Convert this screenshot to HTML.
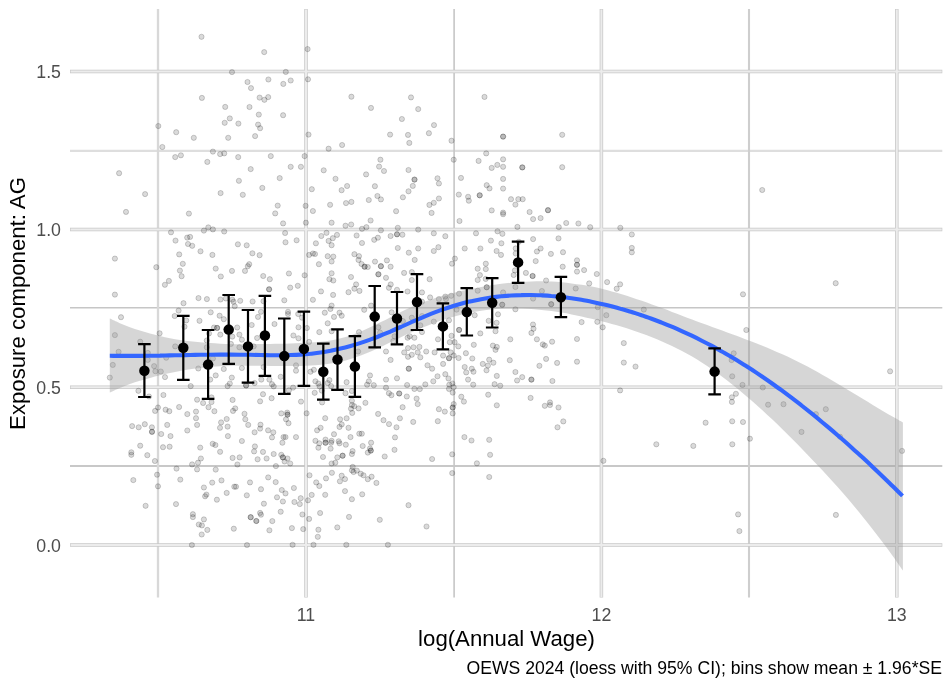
<!DOCTYPE html>
<html lang="en">
<head>
<meta charset="utf-8">
<title>Exposure component: AG vs log(Annual Wage)</title>
<style>
html,body{margin:0;padding:0;background:#fff;}
body{width:948px;height:681px;overflow:hidden;font-family:"Liberation Sans",Arial,Helvetica,sans-serif;}
svg{display:block;}
.tick{font-size:17.76px;fill:#4d4d4d;}
.title{font-size:22.2px;fill:#000;}
.cap{font-size:17.62px;fill:#000;}
.gmajo{stroke:#c8c8c8;stroke-width:3.5;fill:none;}
.gmaji{stroke:#ececec;stroke-width:2.0;fill:none;}
.pt circle{fill:#000;fill-opacity:0.145;stroke:#000;stroke-opacity:0.2;stroke-width:0.9;}
.eb{stroke:#000;stroke-width:2.2;fill:none;}
.bin{fill:#000;}
</style>
</head>
<body>
<svg width="948" height="681" viewBox="0 0 948 681" font-family="Liberation Sans, Arial, Helvetica, sans-serif">
<rect width="948" height="681" fill="#fff"/>
<g fill="none"><line x1="70" x2="942.3" y1="150.8" y2="150.8" stroke="#dedede" stroke-width="2.2"/><line x1="70" x2="942.3" y1="307.7" y2="307.7" stroke="#c6c6c6" stroke-width="1.6"/><line x1="70" x2="942.3" y1="465.9" y2="465.9" stroke="#c8c8c8" stroke-width="2.0"/><line y1="9" y2="597.6" x1="158.0" x2="158.0" stroke="#d8d8d8" stroke-width="2.3"/><line y1="9" y2="597.6" x1="454.1" x2="454.1" stroke="#c6c6c6" stroke-width="1.6"/><line y1="9" y2="597.6" x1="749.0" x2="749.0" stroke="#cecece" stroke-width="2.1"/></g>
<g class="gmajo"><line x1="70" x2="942.3" y1="71.6" y2="71.6"/><line x1="70" x2="942.3" y1="229.4" y2="229.4"/><line x1="70" x2="942.3" y1="387.2" y2="387.2"/><line x1="70" x2="942.3" y1="545.0" y2="545.0"/><line y1="9" y2="597.6" x1="306.0" x2="306.0"/><line y1="9" y2="597.6" x1="601.4" x2="601.4"/><line y1="9" y2="597.6" x1="896.8" x2="896.8"/></g>
<g class="gmaji"><line x1="70.6" x2="941.6999999999999" y1="71.6" y2="71.6"/><line x1="70.6" x2="941.6999999999999" y1="229.4" y2="229.4"/><line x1="70.6" x2="941.6999999999999" y1="387.2" y2="387.2"/><line x1="70.6" x2="941.6999999999999" y1="545.0" y2="545.0"/><line y1="9.6" y2="597.0" x1="306.0" x2="306.0"/><line y1="9.6" y2="597.0" x1="601.4" x2="601.4"/><line y1="9.6" y2="597.0" x1="896.8" x2="896.8"/></g>
<g class="pt"><circle cx="201.5" cy="36.8" r="2.6"/><circle cx="232.0" cy="72.1" r="2.6"/><circle cx="247.5" cy="82.0" r="2.6"/><circle cx="251.0" cy="88.1" r="2.6"/><circle cx="201.9" cy="97.9" r="2.6"/><circle cx="225.2" cy="106.9" r="2.6"/>
<circle cx="249.5" cy="107.0" r="2.6"/><circle cx="229.8" cy="118.4" r="2.6"/><circle cx="224.7" cy="122.8" r="2.6"/><circle cx="238.4" cy="123.6" r="2.6"/><circle cx="158.3" cy="126.0" r="2.6"/><circle cx="176.2" cy="132.2" r="2.6"/>
<circle cx="193.8" cy="137.8" r="2.6"/><circle cx="228.2" cy="137.8" r="2.6"/><circle cx="255.1" cy="136.1" r="2.6"/><circle cx="264.2" cy="52.1" r="2.6"/><circle cx="307.6" cy="49.1" r="2.6"/><circle cx="285.8" cy="71.9" r="2.6"/>
<circle cx="268.4" cy="79.5" r="2.6"/><circle cx="290.7" cy="80.5" r="2.6"/><circle cx="283.3" cy="83.9" r="2.6"/><circle cx="308.0" cy="79.3" r="2.6"/><circle cx="259.6" cy="97.6" r="2.6"/><circle cx="268.2" cy="97.1" r="2.6"/>
<circle cx="264.4" cy="99.8" r="2.6"/><circle cx="351.4" cy="96.7" r="2.6"/><circle cx="371.0" cy="107.9" r="2.6"/><circle cx="258.8" cy="114.6" r="2.6"/><circle cx="283.1" cy="115.2" r="2.6"/><circle cx="258.1" cy="124.6" r="2.6"/>
<circle cx="260.1" cy="128.2" r="2.6"/><circle cx="308.5" cy="134.6" r="2.6"/><circle cx="401.9" cy="119.0" r="2.6"/><circle cx="390.1" cy="134.6" r="2.6"/><circle cx="408.0" cy="134.9" r="2.6"/><circle cx="411.0" cy="97.4" r="2.6"/>
<circle cx="418.2" cy="109.1" r="2.6"/><circle cx="434.0" cy="125.1" r="2.6"/><circle cx="428.9" cy="133.2" r="2.6"/><circle cx="409.3" cy="142.9" r="2.6"/><circle cx="451.5" cy="140.7" r="2.6"/><circle cx="484.5" cy="96.9" r="2.6"/>
<circle cx="503.1" cy="136.6" r="2.6"/><circle cx="503.1" cy="136.6" r="2.6"/><circle cx="562.2" cy="134.8" r="2.6"/><circle cx="562.2" cy="167.2" r="2.6"/><circle cx="762.2" cy="190.0" r="2.6"/><circle cx="162.3" cy="147.0" r="2.6"/>
<circle cx="175.2" cy="157.1" r="2.6"/><circle cx="180.9" cy="155.3" r="2.6"/><circle cx="212.9" cy="151.6" r="2.6"/><circle cx="220.1" cy="154.1" r="2.6"/><circle cx="224.2" cy="153.4" r="2.6"/><circle cx="238.2" cy="157.1" r="2.6"/>
<circle cx="207.3" cy="161.9" r="2.6"/><circle cx="250.7" cy="169.1" r="2.6"/><circle cx="119.1" cy="173.2" r="2.6"/><circle cx="238.9" cy="180.8" r="2.6"/><circle cx="145.1" cy="194.1" r="2.6"/><circle cx="220.6" cy="193.1" r="2.6"/>
<circle cx="242.8" cy="194.8" r="2.6"/><circle cx="126.0" cy="211.9" r="2.6"/><circle cx="188.9" cy="213.6" r="2.6"/><circle cx="208.3" cy="227.4" r="2.6"/><circle cx="203.9" cy="230.6" r="2.6"/><circle cx="212.9" cy="229.4" r="2.6"/>
<circle cx="224.2" cy="231.5" r="2.6"/><circle cx="171.0" cy="232.3" r="2.6"/><circle cx="187.2" cy="237.6" r="2.6"/><circle cx="190.1" cy="236.9" r="2.6"/><circle cx="175.5" cy="240.6" r="2.6"/><circle cx="188.0" cy="244.0" r="2.6"/>
<circle cx="192.2" cy="245.8" r="2.6"/><circle cx="237.9" cy="244.3" r="2.6"/><circle cx="246.7" cy="245.3" r="2.6"/><circle cx="342.1" cy="145.0" r="2.6"/><circle cx="328.6" cy="148.7" r="2.6"/><circle cx="270.8" cy="156.1" r="2.6"/>
<circle cx="304.6" cy="156.1" r="2.6"/><circle cx="290.7" cy="166.8" r="2.6"/><circle cx="300.9" cy="166.8" r="2.6"/><circle cx="323.7" cy="170.3" r="2.6"/><circle cx="380.4" cy="159.7" r="2.6"/><circle cx="379.1" cy="166.6" r="2.6"/>
<circle cx="384.0" cy="171.0" r="2.6"/><circle cx="366.1" cy="174.4" r="2.6"/><circle cx="408.5" cy="170.0" r="2.6"/><circle cx="279.7" cy="178.1" r="2.6"/><circle cx="335.5" cy="178.8" r="2.6"/><circle cx="262.3" cy="187.9" r="2.6"/>
<circle cx="311.8" cy="189.2" r="2.6"/><circle cx="347.1" cy="186.0" r="2.6"/><circle cx="341.6" cy="190.2" r="2.6"/><circle cx="374.9" cy="186.2" r="2.6"/><circle cx="408.5" cy="191.3" r="2.6"/><circle cx="377.4" cy="196.0" r="2.6"/>
<circle cx="380.9" cy="199.4" r="2.6"/><circle cx="368.8" cy="200.0" r="2.6"/><circle cx="402.9" cy="197.3" r="2.6"/><circle cx="351.4" cy="201.9" r="2.6"/><circle cx="346.0" cy="203.1" r="2.6"/><circle cx="330.1" cy="204.8" r="2.6"/>
<circle cx="277.7" cy="205.6" r="2.6"/><circle cx="305.6" cy="205.8" r="2.6"/><circle cx="312.9" cy="211.0" r="2.6"/><circle cx="275.2" cy="213.4" r="2.6"/><circle cx="396.1" cy="211.2" r="2.6"/><circle cx="283.1" cy="223.4" r="2.6"/>
<circle cx="305.9" cy="222.7" r="2.6"/><circle cx="331.6" cy="222.7" r="2.6"/><circle cx="370.6" cy="220.5" r="2.6"/><circle cx="351.2" cy="224.5" r="2.6"/><circle cx="345.5" cy="225.7" r="2.6"/><circle cx="366.4" cy="227.2" r="2.6"/>
<circle cx="362.0" cy="228.8" r="2.6"/><circle cx="397.8" cy="227.8" r="2.6"/><circle cx="380.9" cy="230.3" r="2.6"/><circle cx="285.1" cy="233.0" r="2.6"/><circle cx="326.5" cy="232.8" r="2.6"/><circle cx="337.0" cy="234.9" r="2.6"/>
<circle cx="321.3" cy="236.0" r="2.6"/><circle cx="332.8" cy="238.2" r="2.6"/><circle cx="356.6" cy="235.5" r="2.6"/><circle cx="397.0" cy="234.3" r="2.6"/><circle cx="397.0" cy="234.3" r="2.6"/><circle cx="402.4" cy="234.7" r="2.6"/>
<circle cx="390.6" cy="236.0" r="2.6"/><circle cx="377.9" cy="237.7" r="2.6"/><circle cx="374.2" cy="239.8" r="2.6"/><circle cx="328.6" cy="240.9" r="2.6"/><circle cx="296.6" cy="240.3" r="2.6"/><circle cx="285.5" cy="242.3" r="2.6"/>
<circle cx="315.9" cy="243.3" r="2.6"/><circle cx="331.6" cy="245.2" r="2.6"/><circle cx="362.0" cy="243.0" r="2.6"/><circle cx="397.8" cy="248.0" r="2.6"/><circle cx="486.2" cy="153.4" r="2.6"/><circle cx="453.7" cy="159.7" r="2.6"/>
<circle cx="478.6" cy="160.9" r="2.6"/><circle cx="503.1" cy="159.3" r="2.6"/><circle cx="497.3" cy="164.9" r="2.6"/><circle cx="491.7" cy="167.9" r="2.6"/><circle cx="503.1" cy="166.8" r="2.6"/><circle cx="522.3" cy="167.4" r="2.6"/>
<circle cx="522.3" cy="167.4" r="2.6"/><circle cx="437.5" cy="178.3" r="2.6"/><circle cx="414.5" cy="179.6" r="2.6"/><circle cx="414.5" cy="179.6" r="2.6"/><circle cx="438.9" cy="183.5" r="2.6"/><circle cx="461.0" cy="177.9" r="2.6"/>
<circle cx="503.1" cy="178.9" r="2.6"/><circle cx="412.8" cy="185.9" r="2.6"/><circle cx="486.7" cy="185.2" r="2.6"/><circle cx="489.5" cy="188.4" r="2.6"/><circle cx="503.1" cy="188.6" r="2.6"/><circle cx="458.8" cy="194.6" r="2.6"/>
<circle cx="479.7" cy="195.3" r="2.6"/><circle cx="479.7" cy="195.3" r="2.6"/><circle cx="468.1" cy="196.8" r="2.6"/><circle cx="438.9" cy="198.5" r="2.6"/><circle cx="468.8" cy="200.7" r="2.6"/><circle cx="511.0" cy="199.2" r="2.6"/>
<circle cx="518.3" cy="199.2" r="2.6"/><circle cx="522.7" cy="199.2" r="2.6"/><circle cx="433.8" cy="202.8" r="2.6"/><circle cx="429.4" cy="204.9" r="2.6"/><circle cx="515.4" cy="204.6" r="2.6"/><circle cx="431.6" cy="212.9" r="2.6"/>
<circle cx="491.7" cy="210.4" r="2.6"/><circle cx="503.1" cy="212.6" r="2.6"/><circle cx="503.1" cy="214.2" r="2.6"/><circle cx="529.6" cy="212.0" r="2.6"/><circle cx="548.0" cy="210.2" r="2.6"/><circle cx="548.0" cy="210.2" r="2.6"/>
<circle cx="540.6" cy="218.1" r="2.6"/><circle cx="533.1" cy="219.1" r="2.6"/><circle cx="459.5" cy="221.0" r="2.6"/><circle cx="517.4" cy="226.9" r="2.6"/><circle cx="418.2" cy="229.6" r="2.6"/><circle cx="558.8" cy="227.1" r="2.6"/>
<circle cx="433.8" cy="233.3" r="2.6"/><circle cx="445.3" cy="236.2" r="2.6"/><circle cx="476.0" cy="233.3" r="2.6"/><circle cx="497.5" cy="231.3" r="2.6"/><circle cx="502.4" cy="233.8" r="2.6"/><circle cx="490.9" cy="240.6" r="2.6"/>
<circle cx="501.4" cy="243.3" r="2.6"/><circle cx="533.1" cy="239.1" r="2.6"/><circle cx="558.5" cy="238.4" r="2.6"/><circle cx="438.4" cy="247.2" r="2.6"/><circle cx="418.2" cy="248.5" r="2.6"/><circle cx="464.7" cy="248.5" r="2.6"/>
<circle cx="480.4" cy="248.5" r="2.6"/><circle cx="540.6" cy="248.5" r="2.6"/><circle cx="518.8" cy="241.8" r="2.6"/><circle cx="566.2" cy="223.0" r="2.6"/><circle cx="578.4" cy="223.5" r="2.6"/><circle cx="590.2" cy="227.2" r="2.6"/>
<circle cx="620.3" cy="227.8" r="2.6"/><circle cx="631.8" cy="234.5" r="2.6"/><circle cx="631.8" cy="247.9" r="2.6"/><circle cx="200.5" cy="251.3" r="2.6"/><circle cx="179.2" cy="254.4" r="2.6"/><circle cx="212.4" cy="254.9" r="2.6"/>
<circle cx="252.4" cy="253.3" r="2.6"/><circle cx="114.9" cy="258.6" r="2.6"/><circle cx="182.8" cy="263.8" r="2.6"/><circle cx="156.3" cy="267.2" r="2.6"/><circle cx="249.2" cy="264.2" r="2.6"/><circle cx="247.8" cy="266.2" r="2.6"/>
<circle cx="215.7" cy="268.6" r="2.6"/><circle cx="179.9" cy="270.6" r="2.6"/><circle cx="232.0" cy="270.9" r="2.6"/><circle cx="245.0" cy="270.9" r="2.6"/><circle cx="181.6" cy="276.2" r="2.6"/><circle cx="220.8" cy="276.5" r="2.6"/>
<circle cx="168.9" cy="280.9" r="2.6"/><circle cx="164.9" cy="284.8" r="2.6"/><circle cx="114.9" cy="294.6" r="2.6"/><circle cx="198.5" cy="298.1" r="2.6"/><circle cx="206.9" cy="299.1" r="2.6"/><circle cx="220.5" cy="299.5" r="2.6"/>
<circle cx="225.9" cy="298.5" r="2.6"/><circle cx="232.3" cy="299.6" r="2.6"/><circle cx="233.5" cy="301.7" r="2.6"/><circle cx="240.2" cy="300.8" r="2.6"/><circle cx="252.6" cy="301.5" r="2.6"/><circle cx="183.5" cy="303.2" r="2.6"/>
<circle cx="234.7" cy="306.2" r="2.6"/><circle cx="178.6" cy="310.6" r="2.6"/><circle cx="210.7" cy="312.3" r="2.6"/><circle cx="121.0" cy="317.2" r="2.6"/><circle cx="174.7" cy="316.0" r="2.6"/><circle cx="219.6" cy="315.7" r="2.6"/>
<circle cx="223.8" cy="319.2" r="2.6"/><circle cx="186.2" cy="320.4" r="2.6"/><circle cx="199.5" cy="320.8" r="2.6"/><circle cx="258.0" cy="316.9" r="2.6"/><circle cx="184.5" cy="326.7" r="2.6"/><circle cx="217.1" cy="327.9" r="2.6"/>
<circle cx="217.1" cy="327.9" r="2.6"/><circle cx="214.0" cy="327.5" r="2.6"/><circle cx="237.2" cy="327.5" r="2.6"/><circle cx="209.0" cy="333.4" r="2.6"/><circle cx="220.3" cy="334.6" r="2.6"/><circle cx="232.3" cy="336.6" r="2.6"/>
<circle cx="239.4" cy="334.6" r="2.6"/><circle cx="159.6" cy="333.3" r="2.6"/><circle cx="251.7" cy="325.0" r="2.6"/><circle cx="114.9" cy="335.1" r="2.6"/><circle cx="241.9" cy="339.7" r="2.6"/><circle cx="140.2" cy="341.7" r="2.6"/>
<circle cx="206.8" cy="340.5" r="2.6"/><circle cx="175.2" cy="346.4" r="2.6"/><circle cx="206.8" cy="347.3" r="2.6"/><circle cx="118.6" cy="351.8" r="2.6"/><circle cx="239.4" cy="347.3" r="2.6"/><circle cx="230.9" cy="343.9" r="2.6"/>
<circle cx="147.8" cy="352.9" r="2.6"/><circle cx="253.7" cy="346.4" r="2.6"/><circle cx="257.1" cy="338.0" r="2.6"/><circle cx="147.8" cy="359.9" r="2.6"/><circle cx="166.2" cy="357.7" r="2.6"/><circle cx="112.8" cy="364.9" r="2.6"/>
<circle cx="154.1" cy="366.1" r="2.6"/><circle cx="155.4" cy="371.2" r="2.6"/><circle cx="160.8" cy="371.5" r="2.6"/><circle cx="109.8" cy="377.6" r="2.6"/><circle cx="165.0" cy="377.1" r="2.6"/><circle cx="198.3" cy="368.5" r="2.6"/>
<circle cx="212.9" cy="358.5" r="2.6"/><circle cx="223.8" cy="369.0" r="2.6"/><circle cx="241.9" cy="368.0" r="2.6"/><circle cx="215.7" cy="375.4" r="2.6"/><circle cx="210.2" cy="379.6" r="2.6"/><circle cx="231.8" cy="377.6" r="2.6"/>
<circle cx="229.8" cy="383.5" r="2.6"/><circle cx="227.6" cy="386.1" r="2.6"/><circle cx="190.7" cy="386.1" r="2.6"/><circle cx="246.1" cy="385.5" r="2.6"/><circle cx="246.1" cy="385.5" r="2.6"/><circle cx="254.6" cy="383.0" r="2.6"/>
<circle cx="138.4" cy="390.8" r="2.6"/><circle cx="149.0" cy="396.5" r="2.6"/><circle cx="163.4" cy="395.0" r="2.6"/><circle cx="197.1" cy="399.7" r="2.6"/><circle cx="211.5" cy="397.4" r="2.6"/><circle cx="232.6" cy="399.9" r="2.6"/>
<circle cx="203.1" cy="403.0" r="2.6"/><circle cx="211.5" cy="402.1" r="2.6"/><circle cx="208.5" cy="407.2" r="2.6"/><circle cx="158.0" cy="407.5" r="2.6"/><circle cx="155.1" cy="410.9" r="2.6"/><circle cx="165.6" cy="409.7" r="2.6"/>
<circle cx="169.3" cy="411.2" r="2.6"/><circle cx="179.1" cy="407.0" r="2.6"/><circle cx="214.4" cy="411.2" r="2.6"/><circle cx="235.2" cy="408.4" r="2.6"/><circle cx="233.0" cy="410.9" r="2.6"/><circle cx="196.0" cy="411.6" r="2.6"/>
<circle cx="187.3" cy="414.1" r="2.6"/><circle cx="244.5" cy="413.8" r="2.6"/><circle cx="196.0" cy="418.2" r="2.6"/><circle cx="226.7" cy="419.0" r="2.6"/><circle cx="245.3" cy="419.3" r="2.6"/><circle cx="221.1" cy="422.4" r="2.6"/>
<circle cx="144.8" cy="424.2" r="2.6"/><circle cx="132.1" cy="426.1" r="2.6"/><circle cx="138.7" cy="427.3" r="2.6"/><circle cx="151.9" cy="427.3" r="2.6"/><circle cx="167.2" cy="424.9" r="2.6"/><circle cx="197.1" cy="424.9" r="2.6"/>
<circle cx="227.6" cy="426.6" r="2.6"/><circle cx="220.0" cy="427.8" r="2.6"/><circle cx="248.2" cy="424.9" r="2.6"/><circle cx="152.0" cy="431.8" r="2.6"/><circle cx="152.0" cy="431.8" r="2.6"/><circle cx="187.3" cy="430.5" r="2.6"/>
<circle cx="161.2" cy="434.0" r="2.6"/><circle cx="170.5" cy="436.1" r="2.6"/><circle cx="227.9" cy="436.1" r="2.6"/><circle cx="254.6" cy="432.3" r="2.6"/><circle cx="241.9" cy="441.0" r="2.6"/><circle cx="140.2" cy="445.7" r="2.6"/>
<circle cx="163.0" cy="447.2" r="2.6"/><circle cx="169.6" cy="446.7" r="2.6"/><circle cx="200.2" cy="447.6" r="2.6"/><circle cx="212.7" cy="443.8" r="2.6"/><circle cx="215.4" cy="445.0" r="2.6"/><circle cx="254.9" cy="446.4" r="2.6"/>
<circle cx="131.3" cy="452.3" r="2.6"/><circle cx="131.3" cy="454.8" r="2.6"/><circle cx="147.3" cy="455.2" r="2.6"/><circle cx="220.1" cy="451.8" r="2.6"/><circle cx="254.1" cy="451.4" r="2.6"/><circle cx="200.9" cy="458.5" r="2.6"/>
<circle cx="232.6" cy="457.9" r="2.6"/><circle cx="239.6" cy="457.4" r="2.6"/><circle cx="154.9" cy="461.0" r="2.6"/><circle cx="198.0" cy="462.7" r="2.6"/><circle cx="192.1" cy="464.4" r="2.6"/><circle cx="257.6" cy="459.3" r="2.6"/>
<circle cx="237.4" cy="464.5" r="2.6"/><circle cx="176.5" cy="468.6" r="2.6"/><circle cx="197.1" cy="469.4" r="2.6"/><circle cx="215.7" cy="469.6" r="2.6"/><circle cx="157.1" cy="474.7" r="2.6"/><circle cx="133.3" cy="480.1" r="2.6"/>
<circle cx="180.3" cy="479.6" r="2.6"/><circle cx="221.5" cy="480.4" r="2.6"/><circle cx="212.2" cy="482.6" r="2.6"/><circle cx="250.0" cy="482.4" r="2.6"/><circle cx="158.0" cy="486.3" r="2.6"/><circle cx="203.9" cy="487.5" r="2.6"/>
<circle cx="234.3" cy="486.7" r="2.6"/><circle cx="236.0" cy="486.7" r="2.6"/><circle cx="226.7" cy="492.9" r="2.6"/><circle cx="206.4" cy="494.6" r="2.6"/><circle cx="205.1" cy="496.3" r="2.6"/><circle cx="246.8" cy="495.3" r="2.6"/>
<circle cx="216.9" cy="499.7" r="2.6"/><circle cx="145.6" cy="505.8" r="2.6"/><circle cx="176.0" cy="504.1" r="2.6"/><circle cx="192.9" cy="514.2" r="2.6"/><circle cx="192.9" cy="517.1" r="2.6"/><circle cx="203.9" cy="519.4" r="2.6"/>
<circle cx="250.7" cy="517.2" r="2.6"/><circle cx="250.7" cy="517.2" r="2.6"/><circle cx="256.3" cy="521.0" r="2.6"/><circle cx="256.3" cy="521.0" r="2.6"/><circle cx="198.8" cy="524.5" r="2.6"/><circle cx="201.9" cy="525.4" r="2.6"/>
<circle cx="207.3" cy="529.9" r="2.6"/><circle cx="233.8" cy="528.7" r="2.6"/><circle cx="201.7" cy="534.5" r="2.6"/><circle cx="191.9" cy="545.0" r="2.6"/><circle cx="247.0" cy="545.0" r="2.6"/><circle cx="259.6" cy="255.2" r="2.6"/>
<circle cx="309.1" cy="254.9" r="2.6"/><circle cx="312.9" cy="253.5" r="2.6"/><circle cx="315.0" cy="254.0" r="2.6"/><circle cx="327.7" cy="256.2" r="2.6"/><circle cx="333.3" cy="256.6" r="2.6"/><circle cx="331.6" cy="261.5" r="2.6"/>
<circle cx="354.4" cy="254.2" r="2.6"/><circle cx="359.0" cy="256.1" r="2.6"/><circle cx="358.5" cy="259.9" r="2.6"/><circle cx="318.9" cy="264.2" r="2.6"/><circle cx="361.5" cy="264.0" r="2.6"/><circle cx="364.6" cy="266.7" r="2.6"/>
<circle cx="364.6" cy="266.7" r="2.6"/><circle cx="367.8" cy="267.0" r="2.6"/><circle cx="375.0" cy="261.6" r="2.6"/><circle cx="386.9" cy="260.4" r="2.6"/><circle cx="380.9" cy="266.2" r="2.6"/><circle cx="380.9" cy="266.2" r="2.6"/>
<circle cx="390.6" cy="266.7" r="2.6"/><circle cx="408.8" cy="252.7" r="2.6"/><circle cx="288.9" cy="273.5" r="2.6"/><circle cx="263.2" cy="276.0" r="2.6"/><circle cx="269.8" cy="279.2" r="2.6"/><circle cx="304.6" cy="275.3" r="2.6"/>
<circle cx="331.6" cy="273.3" r="2.6"/><circle cx="329.4" cy="279.2" r="2.6"/><circle cx="333.3" cy="280.5" r="2.6"/><circle cx="351.0" cy="277.0" r="2.6"/><circle cx="378.4" cy="274.3" r="2.6"/><circle cx="378.4" cy="274.3" r="2.6"/>
<circle cx="386.0" cy="277.8" r="2.6"/><circle cx="404.1" cy="272.9" r="2.6"/><circle cx="356.1" cy="284.4" r="2.6"/><circle cx="354.4" cy="288.7" r="2.6"/><circle cx="359.5" cy="290.9" r="2.6"/><circle cx="348.5" cy="292.2" r="2.6"/>
<circle cx="390.7" cy="284.4" r="2.6"/><circle cx="388.9" cy="287.8" r="2.6"/><circle cx="397.0" cy="289.8" r="2.6"/><circle cx="407.5" cy="291.5" r="2.6"/><circle cx="269.1" cy="289.3" r="2.6"/><circle cx="269.1" cy="289.3" r="2.6"/>
<circle cx="297.8" cy="285.8" r="2.6"/><circle cx="290.2" cy="287.6" r="2.6"/><circle cx="321.0" cy="291.4" r="2.6"/><circle cx="333.1" cy="294.9" r="2.6"/><circle cx="312.9" cy="299.8" r="2.6"/><circle cx="284.3" cy="300.3" r="2.6"/>
<circle cx="263.5" cy="301.2" r="2.6"/><circle cx="331.6" cy="305.6" r="2.6"/><circle cx="330.4" cy="308.9" r="2.6"/><circle cx="371.1" cy="305.6" r="2.6"/><circle cx="364.2" cy="309.8" r="2.6"/><circle cx="261.0" cy="311.8" r="2.6"/>
<circle cx="288.0" cy="311.8" r="2.6"/><circle cx="288.0" cy="314.0" r="2.6"/><circle cx="298.2" cy="314.0" r="2.6"/><circle cx="302.0" cy="317.7" r="2.6"/><circle cx="324.8" cy="312.7" r="2.6"/><circle cx="339.5" cy="312.7" r="2.6"/>
<circle cx="341.7" cy="315.7" r="2.6"/><circle cx="334.0" cy="316.9" r="2.6"/><circle cx="391.6" cy="312.3" r="2.6"/><circle cx="327.7" cy="323.3" r="2.6"/><circle cx="274.5" cy="324.0" r="2.6"/><circle cx="298.5" cy="327.3" r="2.6"/>
<circle cx="306.9" cy="328.0" r="2.6"/><circle cx="319.3" cy="332.1" r="2.6"/><circle cx="331.6" cy="331.2" r="2.6"/><circle cx="359.0" cy="332.1" r="2.6"/><circle cx="378.4" cy="327.3" r="2.6"/><circle cx="293.4" cy="335.5" r="2.6"/>
<circle cx="298.5" cy="338.3" r="2.6"/><circle cx="309.1" cy="341.9" r="2.6"/><circle cx="394.5" cy="336.3" r="2.6"/><circle cx="393.3" cy="341.0" r="2.6"/><circle cx="409.7" cy="336.3" r="2.6"/><circle cx="408.0" cy="348.1" r="2.6"/>
<circle cx="386.0" cy="351.5" r="2.6"/><circle cx="358.1" cy="351.5" r="2.6"/><circle cx="380.1" cy="332.6" r="2.6"/><circle cx="390.6" cy="359.9" r="2.6"/><circle cx="408.0" cy="356.8" r="2.6"/><circle cx="408.8" cy="368.7" r="2.6"/>
<circle cx="408.8" cy="368.7" r="2.6"/><circle cx="296.0" cy="365.3" r="2.6"/><circle cx="296.0" cy="370.7" r="2.6"/><circle cx="263.5" cy="367.0" r="2.6"/><circle cx="313.9" cy="369.8" r="2.6"/><circle cx="310.5" cy="371.7" r="2.6"/>
<circle cx="280.7" cy="376.8" r="2.6"/><circle cx="370.0" cy="375.4" r="2.6"/><circle cx="386.0" cy="379.6" r="2.6"/><circle cx="397.0" cy="378.3" r="2.6"/><circle cx="407.1" cy="385.0" r="2.6"/><circle cx="261.3" cy="379.6" r="2.6"/>
<circle cx="269.4" cy="379.6" r="2.6"/><circle cx="272.0" cy="384.2" r="2.6"/><circle cx="273.7" cy="386.4" r="2.6"/><circle cx="315.4" cy="381.3" r="2.6"/><circle cx="318.4" cy="383.5" r="2.6"/><circle cx="319.6" cy="386.4" r="2.6"/>
<circle cx="329.4" cy="380.1" r="2.6"/><circle cx="327.7" cy="383.0" r="2.6"/><circle cx="331.1" cy="386.1" r="2.6"/><circle cx="346.6" cy="382.2" r="2.6"/><circle cx="368.8" cy="381.3" r="2.6"/><circle cx="367.1" cy="384.7" r="2.6"/>
<circle cx="373.8" cy="385.2" r="2.6"/><circle cx="293.1" cy="387.6" r="2.6"/><circle cx="288.9" cy="390.3" r="2.6"/><circle cx="321.8" cy="390.6" r="2.6"/><circle cx="314.7" cy="392.8" r="2.6"/><circle cx="386.0" cy="387.7" r="2.6"/>
<circle cx="388.9" cy="393.2" r="2.6"/><circle cx="391.4" cy="395.2" r="2.6"/><circle cx="399.2" cy="393.5" r="2.6"/><circle cx="399.2" cy="393.5" r="2.6"/><circle cx="345.5" cy="393.2" r="2.6"/><circle cx="351.9" cy="391.0" r="2.6"/>
<circle cx="263.0" cy="394.2" r="2.6"/><circle cx="271.6" cy="398.2" r="2.6"/><circle cx="260.1" cy="401.3" r="2.6"/><circle cx="301.0" cy="401.6" r="2.6"/><circle cx="322.1" cy="402.4" r="2.6"/><circle cx="351.9" cy="400.8" r="2.6"/>
<circle cx="365.4" cy="402.8" r="2.6"/><circle cx="406.8" cy="396.5" r="2.6"/><circle cx="351.9" cy="405.0" r="2.6"/><circle cx="354.2" cy="406.2" r="2.6"/><circle cx="358.6" cy="408.4" r="2.6"/><circle cx="351.0" cy="408.7" r="2.6"/>
<circle cx="352.2" cy="412.9" r="2.6"/><circle cx="402.6" cy="407.2" r="2.6"/><circle cx="281.3" cy="413.4" r="2.6"/><circle cx="287.2" cy="412.6" r="2.6"/><circle cx="287.5" cy="414.6" r="2.6"/><circle cx="287.5" cy="414.6" r="2.6"/>
<circle cx="306.6" cy="413.3" r="2.6"/><circle cx="378.1" cy="413.9" r="2.6"/><circle cx="286.0" cy="419.3" r="2.6"/><circle cx="288.5" cy="423.2" r="2.6"/><circle cx="325.2" cy="418.2" r="2.6"/><circle cx="340.1" cy="419.3" r="2.6"/>
<circle cx="346.6" cy="418.3" r="2.6"/><circle cx="383.5" cy="420.2" r="2.6"/><circle cx="399.9" cy="418.3" r="2.6"/><circle cx="389.0" cy="424.1" r="2.6"/><circle cx="260.5" cy="424.7" r="2.6"/><circle cx="260.1" cy="428.6" r="2.6"/>
<circle cx="341.7" cy="424.4" r="2.6"/><circle cx="339.5" cy="426.9" r="2.6"/><circle cx="348.5" cy="427.8" r="2.6"/><circle cx="320.6" cy="427.8" r="2.6"/><circle cx="317.1" cy="430.3" r="2.6"/><circle cx="396.5" cy="427.3" r="2.6"/>
<circle cx="268.1" cy="430.3" r="2.6"/><circle cx="273.3" cy="432.3" r="2.6"/><circle cx="334.0" cy="434.2" r="2.6"/><circle cx="359.3" cy="433.7" r="2.6"/><circle cx="361.8" cy="433.7" r="2.6"/><circle cx="272.0" cy="437.4" r="2.6"/>
<circle cx="283.5" cy="437.1" r="2.6"/><circle cx="285.5" cy="437.1" r="2.6"/><circle cx="296.0" cy="437.1" r="2.6"/><circle cx="350.5" cy="437.1" r="2.6"/><circle cx="395.0" cy="437.4" r="2.6"/><circle cx="282.4" cy="442.7" r="2.6"/>
<circle cx="315.4" cy="440.8" r="2.6"/><circle cx="325.5" cy="439.6" r="2.6"/><circle cx="331.6" cy="440.8" r="2.6"/><circle cx="338.7" cy="441.3" r="2.6"/><circle cx="319.3" cy="443.3" r="2.6"/><circle cx="325.5" cy="442.7" r="2.6"/>
<circle cx="325.5" cy="442.7" r="2.6"/><circle cx="331.1" cy="442.7" r="2.6"/><circle cx="339.5" cy="443.3" r="2.6"/><circle cx="345.8" cy="444.7" r="2.6"/><circle cx="371.1" cy="442.7" r="2.6"/><circle cx="263.0" cy="451.9" r="2.6"/>
<circle cx="318.4" cy="447.7" r="2.6"/><circle cx="330.6" cy="448.6" r="2.6"/><circle cx="362.7" cy="446.0" r="2.6"/><circle cx="370.0" cy="448.4" r="2.6"/><circle cx="370.8" cy="450.6" r="2.6"/><circle cx="370.8" cy="450.6" r="2.6"/>
<circle cx="394.5" cy="449.8" r="2.6"/><circle cx="367.8" cy="452.6" r="2.6"/><circle cx="352.6" cy="451.1" r="2.6"/><circle cx="351.9" cy="454.0" r="2.6"/><circle cx="273.7" cy="454.0" r="2.6"/><circle cx="281.3" cy="454.8" r="2.6"/>
<circle cx="282.9" cy="457.4" r="2.6"/><circle cx="282.9" cy="457.4" r="2.6"/><circle cx="287.5" cy="458.5" r="2.6"/><circle cx="266.6" cy="458.5" r="2.6"/><circle cx="323.0" cy="457.0" r="2.6"/><circle cx="337.3" cy="457.4" r="2.6"/>
<circle cx="342.6" cy="455.7" r="2.6"/><circle cx="342.6" cy="455.7" r="2.6"/><circle cx="384.7" cy="456.5" r="2.6"/><circle cx="284.6" cy="461.5" r="2.6"/><circle cx="290.2" cy="463.5" r="2.6"/><circle cx="275.9" cy="466.1" r="2.6"/>
<circle cx="331.6" cy="463.5" r="2.6"/><circle cx="335.3" cy="462.7" r="2.6"/><circle cx="352.7" cy="466.9" r="2.6"/><circle cx="351.9" cy="470.3" r="2.6"/><circle cx="353.6" cy="472.0" r="2.6"/><circle cx="356.8" cy="470.6" r="2.6"/>
<circle cx="360.7" cy="473.7" r="2.6"/><circle cx="363.5" cy="475.3" r="2.6"/><circle cx="371.6" cy="476.7" r="2.6"/><circle cx="367.8" cy="479.2" r="2.6"/><circle cx="376.4" cy="482.9" r="2.6"/><circle cx="331.9" cy="472.8" r="2.6"/>
<circle cx="341.7" cy="475.7" r="2.6"/><circle cx="345.0" cy="479.1" r="2.6"/><circle cx="339.9" cy="481.3" r="2.6"/><circle cx="326.0" cy="478.4" r="2.6"/><circle cx="309.5" cy="475.3" r="2.6"/><circle cx="316.2" cy="482.4" r="2.6"/>
<circle cx="319.3" cy="486.0" r="2.6"/><circle cx="268.2" cy="477.4" r="2.6"/><circle cx="275.7" cy="482.1" r="2.6"/><circle cx="261.0" cy="489.2" r="2.6"/><circle cx="281.8" cy="490.0" r="2.6"/><circle cx="285.5" cy="493.4" r="2.6"/>
<circle cx="293.9" cy="488.0" r="2.6"/><circle cx="345.0" cy="491.1" r="2.6"/><circle cx="362.2" cy="494.3" r="2.6"/><circle cx="325.2" cy="494.8" r="2.6"/><circle cx="311.7" cy="494.9" r="2.6"/><circle cx="351.9" cy="499.2" r="2.6"/>
<circle cx="300.7" cy="498.2" r="2.6"/><circle cx="308.0" cy="500.3" r="2.6"/><circle cx="277.0" cy="497.3" r="2.6"/><circle cx="282.9" cy="501.5" r="2.6"/><circle cx="294.4" cy="502.0" r="2.6"/><circle cx="299.8" cy="504.1" r="2.6"/>
<circle cx="263.9" cy="503.7" r="2.6"/><circle cx="408.5" cy="505.2" r="2.6"/><circle cx="280.7" cy="511.7" r="2.6"/><circle cx="260.1" cy="512.9" r="2.6"/><circle cx="261.0" cy="514.7" r="2.6"/><circle cx="302.4" cy="514.5" r="2.6"/>
<circle cx="320.1" cy="513.0" r="2.6"/><circle cx="309.1" cy="518.9" r="2.6"/><circle cx="349.0" cy="516.9" r="2.6"/><circle cx="379.8" cy="519.8" r="2.6"/><circle cx="272.3" cy="521.1" r="2.6"/><circle cx="291.9" cy="528.1" r="2.6"/>
<circle cx="269.4" cy="530.3" r="2.6"/><circle cx="303.2" cy="529.1" r="2.6"/><circle cx="318.4" cy="529.7" r="2.6"/><circle cx="337.3" cy="527.4" r="2.6"/><circle cx="317.8" cy="536.8" r="2.6"/><circle cx="292.6" cy="544.8" r="2.6"/>
<circle cx="313.5" cy="544.8" r="2.6"/><circle cx="346.3" cy="544.8" r="2.6"/><circle cx="387.9" cy="544.8" r="2.6"/><circle cx="433.8" cy="251.0" r="2.6"/><circle cx="496.6" cy="251.0" r="2.6"/><circle cx="501.0" cy="254.9" r="2.6"/>
<circle cx="536.9" cy="251.5" r="2.6"/><circle cx="550.9" cy="253.9" r="2.6"/><circle cx="515.7" cy="248.4" r="2.6"/><circle cx="515.7" cy="253.5" r="2.6"/><circle cx="414.7" cy="259.9" r="2.6"/><circle cx="454.9" cy="258.6" r="2.6"/>
<circle cx="452.0" cy="263.7" r="2.6"/><circle cx="485.8" cy="263.7" r="2.6"/><circle cx="535.7" cy="261.1" r="2.6"/><circle cx="477.7" cy="268.7" r="2.6"/><circle cx="485.8" cy="269.1" r="2.6"/><circle cx="411.8" cy="272.1" r="2.6"/>
<circle cx="479.9" cy="275.1" r="2.6"/><circle cx="514.9" cy="270.4" r="2.6"/><circle cx="513.7" cy="275.0" r="2.6"/><circle cx="525.9" cy="272.9" r="2.6"/><circle cx="532.6" cy="276.0" r="2.6"/><circle cx="532.6" cy="276.0" r="2.6"/>
<circle cx="411.8" cy="280.0" r="2.6"/><circle cx="429.6" cy="279.2" r="2.6"/><circle cx="477.7" cy="280.0" r="2.6"/><circle cx="485.7" cy="278.9" r="2.6"/><circle cx="546.1" cy="280.5" r="2.6"/><circle cx="515.4" cy="287.0" r="2.6"/>
<circle cx="486.7" cy="287.3" r="2.6"/><circle cx="486.7" cy="287.3" r="2.6"/><circle cx="422.0" cy="292.4" r="2.6"/><circle cx="477.7" cy="290.7" r="2.6"/><circle cx="459.1" cy="293.7" r="2.6"/><circle cx="503.1" cy="292.4" r="2.6"/>
<circle cx="541.9" cy="291.0" r="2.6"/><circle cx="430.1" cy="297.4" r="2.6"/><circle cx="445.3" cy="296.6" r="2.6"/><circle cx="446.0" cy="299.1" r="2.6"/><circle cx="438.9" cy="299.1" r="2.6"/><circle cx="451.2" cy="295.8" r="2.6"/>
<circle cx="422.0" cy="301.7" r="2.6"/><circle cx="533.1" cy="298.6" r="2.6"/><circle cx="502.2" cy="304.7" r="2.6"/><circle cx="502.2" cy="304.7" r="2.6"/><circle cx="551.2" cy="304.2" r="2.6"/><circle cx="551.2" cy="304.2" r="2.6"/>
<circle cx="456.6" cy="309.6" r="2.6"/><circle cx="515.4" cy="309.3" r="2.6"/><circle cx="474.7" cy="315.2" r="2.6"/><circle cx="498.0" cy="314.3" r="2.6"/><circle cx="411.8" cy="317.7" r="2.6"/><circle cx="422.0" cy="316.0" r="2.6"/>
<circle cx="449.0" cy="320.3" r="2.6"/><circle cx="433.8" cy="321.6" r="2.6"/><circle cx="488.7" cy="320.8" r="2.6"/><circle cx="496.6" cy="322.8" r="2.6"/><circle cx="420.3" cy="325.3" r="2.6"/><circle cx="459.1" cy="329.9" r="2.6"/>
<circle cx="459.1" cy="329.9" r="2.6"/><circle cx="495.5" cy="331.2" r="2.6"/><circle cx="533.0" cy="324.5" r="2.6"/><circle cx="533.5" cy="328.7" r="2.6"/><circle cx="531.4" cy="332.9" r="2.6"/><circle cx="480.3" cy="333.4" r="2.6"/>
<circle cx="422.0" cy="332.1" r="2.6"/><circle cx="407.6" cy="337.7" r="2.6"/><circle cx="414.4" cy="337.7" r="2.6"/><circle cx="451.5" cy="335.8" r="2.6"/><circle cx="438.0" cy="339.3" r="2.6"/><circle cx="449.8" cy="342.2" r="2.6"/>
<circle cx="454.6" cy="342.2" r="2.6"/><circle cx="458.3" cy="346.4" r="2.6"/><circle cx="473.8" cy="344.8" r="2.6"/><circle cx="510.3" cy="339.3" r="2.6"/><circle cx="536.9" cy="339.3" r="2.6"/><circle cx="552.1" cy="341.7" r="2.6"/>
<circle cx="492.9" cy="345.6" r="2.6"/><circle cx="496.8" cy="346.9" r="2.6"/><circle cx="495.5" cy="349.8" r="2.6"/><circle cx="542.8" cy="344.4" r="2.6"/><circle cx="544.8" cy="345.6" r="2.6"/><circle cx="413.5" cy="347.3" r="2.6"/>
<circle cx="419.4" cy="346.9" r="2.6"/><circle cx="417.7" cy="352.4" r="2.6"/><circle cx="426.2" cy="351.5" r="2.6"/><circle cx="404.2" cy="352.4" r="2.6"/><circle cx="434.6" cy="352.4" r="2.6"/><circle cx="465.9" cy="353.2" r="2.6"/>
<circle cx="450.7" cy="352.4" r="2.6"/><circle cx="402.9" cy="321.1" r="2.6"/><circle cx="411.8" cy="354.8" r="2.6"/><circle cx="420.3" cy="357.3" r="2.6"/><circle cx="443.1" cy="355.6" r="2.6"/><circle cx="453.7" cy="355.5" r="2.6"/>
<circle cx="449.0" cy="358.2" r="2.6"/><circle cx="449.0" cy="358.2" r="2.6"/><circle cx="458.6" cy="358.0" r="2.6"/><circle cx="472.3" cy="358.5" r="2.6"/><circle cx="546.1" cy="358.9" r="2.6"/><circle cx="509.8" cy="360.2" r="2.6"/>
<circle cx="557.1" cy="362.9" r="2.6"/><circle cx="489.2" cy="359.7" r="2.6"/><circle cx="493.4" cy="362.7" r="2.6"/><circle cx="482.8" cy="363.9" r="2.6"/><circle cx="487.9" cy="365.6" r="2.6"/><circle cx="539.4" cy="365.8" r="2.6"/>
<circle cx="427.5" cy="365.3" r="2.6"/><circle cx="432.1" cy="368.7" r="2.6"/><circle cx="443.1" cy="363.9" r="2.6"/><circle cx="464.7" cy="367.0" r="2.6"/><circle cx="471.8" cy="368.7" r="2.6"/><circle cx="473.5" cy="371.7" r="2.6"/>
<circle cx="466.2" cy="372.4" r="2.6"/><circle cx="486.5" cy="370.3" r="2.6"/><circle cx="515.4" cy="372.0" r="2.6"/><circle cx="522.2" cy="377.1" r="2.6"/><circle cx="496.8" cy="375.9" r="2.6"/><circle cx="445.3" cy="374.2" r="2.6"/>
<circle cx="437.5" cy="376.3" r="2.6"/><circle cx="448.5" cy="378.5" r="2.6"/><circle cx="468.1" cy="379.6" r="2.6"/><circle cx="517.1" cy="380.5" r="2.6"/><circle cx="531.4" cy="379.6" r="2.6"/><circle cx="531.4" cy="379.6" r="2.6"/>
<circle cx="552.4" cy="381.0" r="2.6"/><circle cx="433.3" cy="381.3" r="2.6"/><circle cx="425.3" cy="384.4" r="2.6"/><circle cx="473.2" cy="384.7" r="2.6"/><circle cx="494.6" cy="384.2" r="2.6"/><circle cx="500.2" cy="385.7" r="2.6"/>
<circle cx="452.4" cy="383.5" r="2.6"/><circle cx="449.3" cy="384.7" r="2.6"/><circle cx="453.7" cy="387.2" r="2.6"/><circle cx="449.0" cy="388.9" r="2.6"/><circle cx="414.4" cy="388.9" r="2.6"/><circle cx="419.8" cy="389.1" r="2.6"/>
<circle cx="452.7" cy="392.6" r="2.6"/><circle cx="416.6" cy="398.6" r="2.6"/><circle cx="461.3" cy="396.7" r="2.6"/><circle cx="463.9" cy="401.6" r="2.6"/><circle cx="488.2" cy="394.7" r="2.6"/><circle cx="530.6" cy="397.9" r="2.6"/>
<circle cx="417.7" cy="404.1" r="2.6"/><circle cx="496.8" cy="405.3" r="2.6"/><circle cx="550.0" cy="402.4" r="2.6"/><circle cx="550.0" cy="405.0" r="2.6"/><circle cx="544.8" cy="405.8" r="2.6"/><circle cx="558.5" cy="407.5" r="2.6"/>
<circle cx="453.7" cy="404.1" r="2.6"/><circle cx="452.7" cy="407.5" r="2.6"/><circle cx="452.7" cy="407.5" r="2.6"/><circle cx="438.9" cy="409.2" r="2.6"/><circle cx="444.8" cy="411.6" r="2.6"/><circle cx="452.7" cy="413.4" r="2.6"/>
<circle cx="413.2" cy="421.9" r="2.6"/><circle cx="437.8" cy="421.2" r="2.6"/><circle cx="557.5" cy="427.3" r="2.6"/><circle cx="464.4" cy="437.1" r="2.6"/><circle cx="471.5" cy="440.5" r="2.6"/><circle cx="489.2" cy="439.8" r="2.6"/>
<circle cx="452.2" cy="454.3" r="2.6"/><circle cx="490.1" cy="454.8" r="2.6"/><circle cx="432.1" cy="459.0" r="2.6"/><circle cx="476.9" cy="463.3" r="2.6"/><circle cx="452.2" cy="473.1" r="2.6"/><circle cx="489.2" cy="477.0" r="2.6"/>
<circle cx="426.5" cy="526.5" r="2.6"/><circle cx="631.8" cy="252.3" r="2.6"/><circle cx="563.0" cy="252.2" r="2.6"/><circle cx="577.0" cy="260.3" r="2.6"/><circle cx="577.0" cy="264.8" r="2.6"/><circle cx="577.0" cy="264.8" r="2.6"/>
<circle cx="562.7" cy="266.7" r="2.6"/><circle cx="577.0" cy="271.6" r="2.6"/><circle cx="584.1" cy="270.1" r="2.6"/><circle cx="596.8" cy="274.0" r="2.6"/><circle cx="607.1" cy="282.1" r="2.6"/><circle cx="589.2" cy="283.4" r="2.6"/>
<circle cx="620.1" cy="284.3" r="2.6"/><circle cx="616.7" cy="288.7" r="2.6"/><circle cx="575.7" cy="288.5" r="2.6"/><circle cx="597.8" cy="307.2" r="2.6"/><circle cx="643.8" cy="309.6" r="2.6"/><circle cx="606.3" cy="315.2" r="2.6"/>
<circle cx="581.6" cy="322.1" r="2.6"/><circle cx="597.3" cy="321.8" r="2.6"/><circle cx="602.7" cy="327.3" r="2.6"/><circle cx="577.0" cy="339.0" r="2.6"/><circle cx="623.8" cy="343.1" r="2.6"/><circle cx="577.0" cy="361.7" r="2.6"/>
<circle cx="623.8" cy="362.6" r="2.6"/><circle cx="635.5" cy="366.6" r="2.6"/><circle cx="620.1" cy="390.4" r="2.6"/><circle cx="563.3" cy="421.4" r="2.6"/><circle cx="705.6" cy="422.7" r="2.6"/><circle cx="656.3" cy="444.3" r="2.6"/>
<circle cx="693.3" cy="445.9" r="2.6"/><circle cx="732.3" cy="444.3" r="2.6"/><circle cx="603.4" cy="460.8" r="2.6"/><circle cx="738.1" cy="514.4" r="2.6"/><circle cx="739.4" cy="531.1" r="2.6"/><circle cx="835.7" cy="283.2" r="2.6"/>
<circle cx="743.0" cy="294.3" r="2.6"/><circle cx="746.3" cy="330.0" r="2.6"/><circle cx="733.7" cy="353.3" r="2.6"/><circle cx="731.6" cy="360.1" r="2.6"/><circle cx="732.2" cy="376.3" r="2.6"/><circle cx="890.1" cy="371.3" r="2.6"/>
<circle cx="742.5" cy="384.9" r="2.6"/><circle cx="762.8" cy="387.5" r="2.6"/><circle cx="735.9" cy="393.8" r="2.6"/><circle cx="731.9" cy="397.3" r="2.6"/><circle cx="731.9" cy="401.9" r="2.6"/><circle cx="768.1" cy="404.7" r="2.6"/>
<circle cx="783.5" cy="404.2" r="2.6"/><circle cx="825.8" cy="409.2" r="2.6"/><circle cx="815.9" cy="414.1" r="2.6"/><circle cx="732.2" cy="421.3" r="2.6"/><circle cx="743.0" cy="422.0" r="2.6"/><circle cx="749.9" cy="438.7" r="2.6"/>
<circle cx="801.5" cy="431.9" r="2.6"/><circle cx="840.0" cy="436.7" r="2.6"/><circle cx="902.0" cy="450.9" r="2.6"/><circle cx="835.9" cy="514.9" r="2.6"/></g>
<path d="M109.8,318.6 C111.5,319.4 116.5,321.7 119.8,323.2 C123.2,324.6 126.5,325.9 129.9,327.2 C133.2,328.4 136.6,329.6 139.9,330.6 C143.3,331.7 146.6,332.7 150.0,333.6 C153.3,334.5 156.6,335.3 160.0,336.1 C163.3,336.9 166.7,337.6 170.0,338.2 C173.4,338.8 176.7,339.4 180.1,339.9 C183.4,340.4 186.8,340.9 190.1,341.3 C193.5,341.7 196.8,342.0 200.2,342.3 C203.5,342.6 206.8,342.9 210.2,343.1 C213.5,343.3 216.9,343.5 220.2,343.7 C223.6,343.8 226.9,343.9 230.3,344.0 C233.6,344.1 237.0,344.2 240.3,344.2 C243.7,344.2 247.0,344.2 250.3,344.2 C253.7,344.2 257.0,344.1 260.4,344.1 C263.7,344.0 267.1,344.0 270.4,343.9 C273.8,343.8 277.1,343.7 280.5,343.7 C283.8,343.6 287.2,343.5 290.5,343.4 C293.9,343.3 297.2,343.2 300.5,343.0 C303.9,342.9 307.2,342.8 310.6,342.6 C313.9,342.3 317.3,342.1 320.6,341.7 C324.0,341.3 327.3,340.9 330.7,340.4 C334.0,339.8 337.4,339.1 340.7,338.3 C344.0,337.5 347.4,336.5 350.7,335.4 C354.1,334.3 357.4,333.0 360.8,331.6 C364.1,330.2 367.5,328.7 370.8,327.1 C374.2,325.5 377.5,323.8 380.9,322.1 C384.2,320.4 387.6,318.7 390.9,316.9 C394.2,315.2 397.6,313.5 400.9,311.9 C404.3,310.3 407.6,308.6 411.0,307.2 C414.3,305.7 417.7,304.3 421.0,303.0 C424.4,301.7 427.7,300.5 431.1,299.4 C434.4,298.3 437.7,297.2 441.1,296.2 C444.4,295.2 447.8,294.3 451.1,293.5 C454.5,292.6 457.8,291.8 461.2,291.0 C464.5,290.3 467.9,289.6 471.2,288.9 C474.6,288.2 477.9,287.5 481.3,286.9 C484.6,286.3 487.9,285.7 491.3,285.2 C494.6,284.7 498.0,284.2 501.3,283.8 C504.7,283.4 508.0,283.0 511.4,282.7 C514.7,282.3 518.1,282.1 521.4,281.9 C524.8,281.6 528.1,281.5 531.4,281.4 C534.8,281.3 538.1,281.3 541.5,281.3 C544.8,281.4 548.2,281.5 551.5,281.6 C554.9,281.8 558.2,282.0 561.6,282.3 C564.9,282.6 568.3,282.9 571.6,283.4 C575.0,283.8 578.3,284.3 581.6,284.8 C585.0,285.3 588.3,285.9 591.7,286.6 C595.0,287.3 598.4,288.0 601.7,288.8 C605.1,289.6 608.4,290.5 611.8,291.4 C615.1,292.3 618.5,293.2 621.8,294.3 C625.1,295.3 628.5,296.3 631.8,297.4 C635.2,298.5 638.5,299.6 641.9,300.8 C645.2,302.0 648.6,303.2 651.9,304.4 C655.3,305.6 658.6,306.8 662.0,308.1 C665.3,309.3 668.7,310.6 672.0,311.9 C675.3,313.1 678.7,314.4 682.0,315.7 C685.4,317.0 688.7,318.3 692.1,319.5 C695.4,320.8 698.8,322.0 702.1,323.3 C705.5,324.5 708.8,325.8 712.2,327.0 C715.5,328.2 718.8,329.4 722.2,330.6 C725.5,331.9 728.9,333.1 732.2,334.3 C735.6,335.5 738.9,336.8 742.3,338.0 C745.6,339.3 749.0,340.5 752.3,341.8 C755.7,343.1 759.0,344.4 762.4,345.8 C765.7,347.1 769.0,348.5 772.4,349.9 C775.7,351.4 779.1,352.8 782.4,354.3 C785.8,355.8 789.1,357.4 792.5,359.0 C795.8,360.6 799.2,362.2 802.5,364.0 C805.9,365.7 809.2,367.5 812.5,369.3 C815.9,371.1 819.2,373.0 822.6,374.9 C825.9,376.8 829.3,378.7 832.6,380.7 C836.0,382.7 839.3,384.7 842.7,386.7 C846.0,388.7 849.4,390.7 852.7,392.7 C856.1,394.8 859.4,396.8 862.7,398.8 C866.1,400.9 869.4,402.9 872.8,404.9 C876.1,406.9 879.5,409.0 882.8,410.9 C886.2,412.9 889.5,414.9 892.9,416.8 C896.2,418.7 901.2,421.5 902.9,422.4 L902.9,570.6 C901.2,568.2 896.2,560.9 892.9,556.3 C889.5,551.6 886.2,547.0 882.8,542.5 C879.5,538.0 876.1,533.7 872.8,529.4 C869.4,525.1 866.1,520.9 862.7,516.7 C859.4,512.6 856.1,508.5 852.7,504.6 C849.4,500.6 846.0,496.7 842.7,492.8 C839.3,489.0 836.0,485.2 832.6,481.5 C829.3,477.8 825.9,474.1 822.6,470.5 C819.2,466.9 815.9,463.4 812.5,459.9 C809.2,456.3 805.9,452.9 802.5,449.4 C799.2,446.0 795.8,442.6 792.5,439.3 C789.1,435.9 785.8,432.6 782.4,429.3 C779.1,426.0 775.7,422.8 772.4,419.6 C769.0,416.5 765.7,413.4 762.4,410.3 C759.0,407.2 755.7,404.2 752.3,401.3 C749.0,398.3 745.6,395.5 742.3,392.7 C738.9,389.9 735.6,387.1 732.2,384.5 C728.9,381.8 725.5,379.2 722.2,376.7 C718.8,374.2 715.5,371.8 712.2,369.5 C708.8,367.2 705.5,364.9 702.1,362.8 C698.8,360.6 695.4,358.6 692.1,356.6 C688.7,354.7 685.4,352.8 682.0,351.1 C678.7,349.3 675.3,347.6 672.0,346.0 C668.7,344.4 665.3,342.8 662.0,341.4 C658.6,339.9 655.3,338.5 651.9,337.2 C648.6,335.8 645.2,334.6 641.9,333.4 C638.5,332.1 635.2,331.0 631.8,329.9 C628.5,328.8 625.1,327.8 621.8,326.7 C618.5,325.7 615.1,324.8 611.8,323.9 C608.4,322.9 605.1,322.0 601.7,321.2 C598.4,320.3 595.0,319.5 591.7,318.7 C588.3,317.9 585.0,317.2 581.6,316.4 C578.3,315.7 575.0,315.0 571.6,314.4 C568.3,313.7 564.9,313.1 561.6,312.6 C558.2,312.0 554.9,311.5 551.5,311.1 C548.2,310.6 544.8,310.2 541.5,309.9 C538.1,309.6 534.8,309.3 531.4,309.0 C528.1,308.8 524.8,308.7 521.4,308.6 C518.1,308.5 514.7,308.4 511.4,308.5 C508.0,308.5 504.7,308.6 501.3,308.8 C498.0,309.0 494.6,309.2 491.3,309.6 C487.9,309.9 484.6,310.3 481.3,310.8 C477.9,311.3 474.6,311.9 471.2,312.5 C467.9,313.2 464.5,313.9 461.2,314.7 C457.8,315.5 454.5,316.4 451.1,317.4 C447.8,318.4 444.4,319.5 441.1,320.6 C437.7,321.7 434.4,322.9 431.1,324.2 C427.7,325.4 424.4,326.8 421.0,328.2 C417.7,329.6 414.3,331.0 411.0,332.5 C407.6,334.0 404.3,335.6 400.9,337.2 C397.6,338.8 394.2,340.5 390.9,342.1 C387.6,343.7 384.2,345.3 380.9,346.9 C377.5,348.5 374.2,350.0 370.8,351.5 C367.5,352.9 364.1,354.3 360.8,355.6 C357.4,356.9 354.1,358.0 350.7,359.1 C347.4,360.1 344.0,360.9 340.7,361.7 C337.4,362.5 334.0,363.1 330.7,363.6 C327.3,364.1 324.0,364.5 320.6,364.8 C317.3,365.2 313.9,365.4 310.6,365.6 C307.2,365.8 303.9,365.9 300.5,365.9 C297.2,366.0 293.9,366.0 290.5,366.1 C287.2,366.1 283.8,366.0 280.5,366.0 C277.1,366.0 273.8,366.0 270.4,365.9 C267.1,365.9 263.7,365.8 260.4,365.8 C257.0,365.8 253.7,365.7 250.3,365.7 C247.0,365.7 243.7,365.7 240.3,365.8 C237.0,365.8 233.6,365.8 230.3,365.9 C226.9,366.0 223.6,366.1 220.2,366.3 C216.9,366.5 213.5,366.7 210.2,366.9 C206.8,367.2 203.5,367.5 200.2,367.9 C196.8,368.3 193.5,368.7 190.1,369.2 C186.8,369.7 183.4,370.3 180.1,370.9 C176.7,371.5 173.4,372.2 170.0,372.9 C166.7,373.6 163.3,374.4 160.0,375.2 C156.6,376.1 153.3,376.9 150.0,377.9 C146.6,378.8 143.3,379.8 139.9,380.8 C136.6,381.8 133.2,382.9 129.9,384.1 C126.5,385.4 123.2,386.6 119.8,388.0 C116.5,389.4 111.5,391.8 109.8,392.6 Z" fill="#999" fill-opacity="0.4"/>
<path d="M109.8,355.8 C111.5,355.8 116.5,355.9 119.8,355.9 C123.2,355.9 126.5,355.9 129.9,355.9 C133.2,355.9 136.6,355.9 139.9,355.9 C143.2,355.8 146.6,355.8 149.9,355.8 C153.3,355.7 156.6,355.6 160.0,355.6 C163.3,355.5 166.7,355.5 170.0,355.4 C173.3,355.3 176.7,355.3 180.0,355.2 C183.4,355.1 186.7,355.1 190.1,355.0 C193.4,354.9 196.8,354.9 200.1,354.8 C203.5,354.8 206.8,354.7 210.1,354.7 C213.5,354.6 216.8,354.6 220.2,354.6 C223.5,354.6 226.9,354.6 230.2,354.6 C233.6,354.6 236.9,354.6 240.2,354.7 C243.6,354.7 246.9,354.8 250.3,354.8 C253.6,354.9 257.0,355.0 260.3,355.0 C263.7,355.1 267.0,355.1 270.3,355.2 C273.7,355.2 277.0,355.2 280.4,355.2 C283.7,355.2 287.1,355.1 290.4,355.0 C293.8,354.9 297.1,354.8 300.4,354.6 C303.8,354.3 307.1,354.1 310.5,353.8 C313.8,353.4 317.2,353.0 320.5,352.5 C323.9,352.0 327.2,351.4 330.6,350.8 C333.9,350.1 337.2,349.4 340.6,348.6 C343.9,347.8 347.3,346.9 350.6,346.0 C354.0,345.0 357.3,344.0 360.7,342.9 C364.0,341.8 367.3,340.6 370.7,339.4 C374.0,338.2 377.4,336.9 380.7,335.5 C384.1,334.2 387.4,332.8 390.8,331.4 C394.1,329.9 397.4,328.4 400.8,327.0 C404.1,325.5 407.5,324.0 410.8,322.5 C414.2,321.0 417.5,319.5 420.9,318.1 C424.2,316.7 427.5,315.2 430.9,313.9 C434.2,312.6 437.6,311.3 440.9,310.1 C444.3,308.9 447.6,307.7 451.0,306.7 C454.3,305.6 457.7,304.6 461.0,303.7 C464.3,302.8 467.7,302.0 471.0,301.2 C474.4,300.5 477.7,299.8 481.1,299.2 C484.4,298.6 487.8,298.0 491.1,297.5 C494.4,297.1 497.8,296.7 501.1,296.3 C504.5,296.0 507.8,295.7 511.2,295.5 C514.5,295.3 517.9,295.1 521.2,295.1 C524.5,295.0 527.9,295.0 531.2,295.0 C534.6,295.0 537.9,295.2 541.3,295.3 C544.6,295.5 548.0,295.7 551.3,296.0 C554.6,296.2 558.0,296.6 561.3,296.9 C564.7,297.3 568.0,297.8 571.4,298.2 C574.7,298.7 578.1,299.3 581.4,299.8 C584.8,300.4 588.1,301.1 591.4,301.7 C594.8,302.4 598.1,303.1 601.5,303.9 C604.8,304.7 608.2,305.5 611.5,306.3 C614.9,307.2 618.2,308.1 621.5,309.1 C624.9,310.0 628.2,311.0 631.6,312.0 C634.9,313.1 638.3,314.1 641.6,315.3 C645.0,316.4 648.3,317.6 651.6,318.8 C655.0,320.0 658.3,321.3 661.7,322.6 C665.0,323.9 668.4,325.3 671.7,326.7 C675.1,328.1 678.4,329.6 681.7,331.1 C685.1,332.6 688.4,334.1 691.8,335.7 C695.1,337.3 698.5,339.0 701.8,340.7 C705.2,342.4 708.5,344.1 711.9,345.9 C715.2,347.7 718.5,349.6 721.9,351.5 C725.2,353.4 728.6,355.3 731.9,357.3 C735.3,359.3 738.6,361.3 742.0,363.4 C745.3,365.5 748.6,367.7 752.0,369.8 C755.3,372.0 758.7,374.3 762.0,376.5 C765.4,378.8 768.7,381.1 772.1,383.5 C775.4,385.9 778.7,388.3 782.1,390.7 C785.4,393.2 788.8,395.7 792.1,398.2 C795.5,400.8 798.8,403.3 802.2,406.0 C805.5,408.6 808.8,411.2 812.2,413.9 C815.5,416.6 818.9,419.4 822.2,422.2 C825.6,425.0 828.9,427.8 832.3,430.6 C835.6,433.5 839.0,436.4 842.3,439.3 C845.6,442.2 849.0,445.2 852.3,448.2 C855.7,451.2 859.0,454.3 862.4,457.3 C865.7,460.4 869.1,463.5 872.4,466.7 C875.7,469.8 879.1,473.0 882.4,476.2 C885.8,479.4 889.1,482.7 892.5,486.0 C895.8,489.2 900.8,494.2 902.5,495.9" fill="none" stroke="#3366ff" stroke-width="4.1" stroke-linejoin="round"/>
<g class="eb"><path d="M138.1,344.2H150.7M144.4,344.2V397.0M138.1,397.0H150.7"/><path d="M177.0,315.9H189.6M183.3,315.9V379.8M177.0,379.8H189.6"/><path d="M201.8,330.0H214.4M208.1,330.0V398.9M201.8,398.9H214.4"/><path d="M222.4,295.0H235.0M228.7,295.0V363.8M222.4,363.8H235.0"/><path d="M241.7,310.0H254.3M248.0,310.0V382.6M241.7,382.6H254.3"/><path d="M258.6,295.8H271.2M264.9,295.8V375.9M258.6,375.9H271.2"/><path d="M278.0,318.5H290.6M284.3,318.5V393.8M278.0,393.8H290.6"/><path d="M297.6,311.6H310.2M303.9,311.6V385.9M297.6,385.9H310.2"/><path d="M317.0,343.6H329.6M323.3,343.6V399.7M317.0,399.7H329.6"/><path d="M331.2,329.3H343.8M337.5,329.3V389.8M331.2,389.8H343.8"/><path d="M348.6,336.2H361.2M354.9,336.2V396.9M348.6,396.9H361.2"/><path d="M368.4,286.0H381.0M374.7,286.0V347.4M368.4,347.4H381.0"/><path d="M390.7,292.0H403.3M397.0,292.0V344.3M390.7,344.3H403.3"/><path d="M410.7,274.1H423.3M417.0,274.1V330.0M410.7,330.0H423.3"/><path d="M436.6,303.3H449.2M442.9,303.3V349.3M436.6,349.3H449.2"/><path d="M460.5,288.2H473.1M466.8,288.2V335.5M460.5,335.5H473.1"/><path d="M485.9,278.1H498.5M492.2,278.1V327.5M485.9,327.5H498.5"/><path d="M511.8,241.6H524.4M518.1,241.6V282.9M511.8,282.9H524.4"/><path d="M554.6,276.8H567.2M560.9,276.8V317.2M554.6,317.2H567.2"/><path d="M708.3,348.4H720.9M714.6,348.4V394.4M708.3,394.4H720.9"/></g>
<g class="bin"><circle cx="144.4" cy="370.8" r="5.25"/><circle cx="183.3" cy="347.7" r="5.25"/><circle cx="208.1" cy="364.6" r="5.25"/><circle cx="228.7" cy="329.6" r="5.25"/><circle cx="248.0" cy="346.4" r="5.25"/><circle cx="264.9" cy="335.5" r="5.25"/><circle cx="284.3" cy="356.1" r="5.25"/><circle cx="303.9" cy="348.9" r="5.25"/><circle cx="323.3" cy="371.7" r="5.25"/><circle cx="337.5" cy="359.5" r="5.25"/><circle cx="354.9" cy="366.6" r="5.25"/><circle cx="374.7" cy="316.6" r="5.25"/><circle cx="397.0" cy="318.5" r="5.25"/><circle cx="417.0" cy="302.1" r="5.25"/><circle cx="442.9" cy="326.4" r="5.25"/><circle cx="466.8" cy="312.1" r="5.25"/><circle cx="492.2" cy="302.7" r="5.25"/><circle cx="518.1" cy="262.4" r="5.25"/><circle cx="560.9" cy="297.2" r="5.25"/><circle cx="714.6" cy="371.6" r="5.25"/></g>
<g class="tick" text-anchor="end"><text x="61" y="78.2">1.5</text><text x="61" y="236.0">1.0</text><text x="61" y="393.8">0.5</text><text x="61" y="551.6">0.0</text></g>
<g class="tick" text-anchor="middle"><text x="306.0" y="620.9">11</text><text x="601.4" y="620.9">12</text><text x="896.8" y="620.9">13</text></g>
<text class="title" text-anchor="middle" x="506.5" y="645.6">log(Annual Wage)</text>
<text class="title" text-anchor="middle" transform="translate(24.5,303.5) rotate(-90)">Exposure component: AG</text>
<text class="cap" text-anchor="end" x="942" y="674.1">OEWS 2024 (loess with 95% CI); bins show mean ± 1.96*SE</text>
</svg>
</body>
</html>
